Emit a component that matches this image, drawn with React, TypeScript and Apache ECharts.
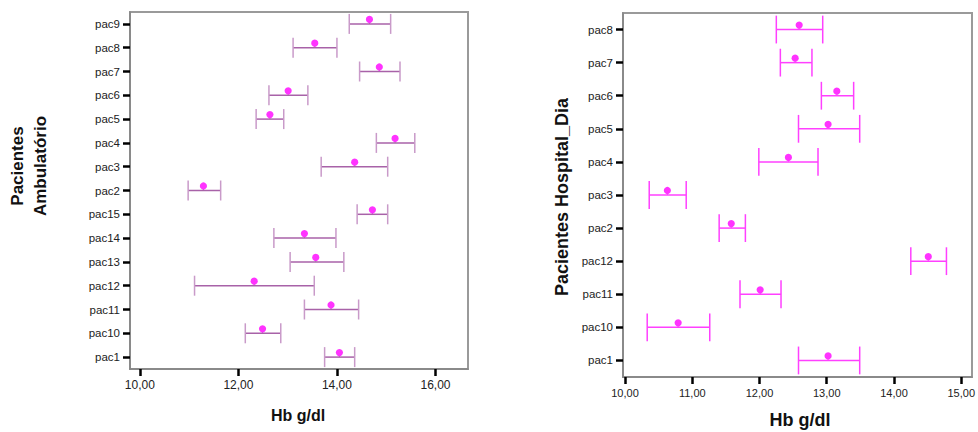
import React, { useEffect, useRef } from "react";
import * as echarts from "echarts";

// Left chart: Pacientes Ambulatório (bottom to top order)
const ambCategories = ["pac1", "pac10", "pac11", "pac12", "pac13", "pac14", "pac15", "pac2", "pac3", "pac4", "pac5", "pac6", "pac7", "pac8", "pac9"];
const ambLow = [13.75, 12.14, 13.34, 11.11, 13.05, 12.72, 14.41, 10.98, 13.68, 14.8, 12.36, 12.62, 14.46, 13.11, 14.25];
const ambHigh = [14.36, 12.86, 14.44, 13.54, 14.14, 13.98, 15.03, 11.64, 15.03, 15.58, 12.92, 13.41, 15.28, 14.0, 15.09];
const ambMean = [14.05, 12.49, 13.88, 12.32, 13.57, 13.34, 14.72, 11.29, 14.36, 15.18, 12.64, 13.01, 14.86, 13.55, 14.66];
const ambTicks = [10, 12, 14, 16];

// Right chart: Pacientes Hospital_Dia (bottom to top order)
const hdCategories = ["pac1", "pac10", "pac11", "pac12", "pac2", "pac3", "pac4", "pac5", "pac6", "pac7", "pac8"];
const hdLow = [12.58, 10.33, 11.71, 14.25, 11.4, 10.36, 11.99, 12.58, 12.92, 12.31, 12.25];
const hdHigh = [13.49, 11.26, 12.32, 14.78, 11.79, 10.91, 12.87, 13.49, 13.4, 12.78, 12.94];
const hdMean = [13.02, 10.79, 12.01, 14.51, 11.58, 10.63, 12.43, 13.02, 13.15, 12.53, 12.59];
const hdTicks = [10, 11, 12, 13, 14, 15];

const fmt = (v: number) => v.toFixed(2).replace(".", ",");

function makeRender(lineColor: string, capColor: string) {
  return (params: any, api: any) => {
    const cat = api.value(0);
    const pLo = api.coord([api.value(1), cat]);
    const pHi = api.coord([api.value(2), cat]);
    const pM = api.coord([api.value(3), cat]);
    const band = api.size([0, 1])[1];
    const h = band * 0.42;
    const y = pLo[1];
    const dotY = y - 4.5;
    return {
      type: "group",
      children: [
        { type: "line", shape: { x1: pLo[0], y1: y, x2: pHi[0], y2: y }, style: { stroke: lineColor, lineWidth: 1.5 } },
        { type: "line", shape: { x1: pLo[0], y1: y - h, x2: pLo[0], y2: y + h }, style: { stroke: capColor, lineWidth: 1.5 } },
        { type: "line", shape: { x1: pHi[0], y1: y - h, x2: pHi[0], y2: y + h }, style: { stroke: capColor, lineWidth: 1.5 } },
        { type: "line", shape: { x1: pM[0], y1: dotY, x2: pM[0], y2: y }, style: { stroke: lineColor, lineWidth: 1 } },
        { type: "circle", shape: { cx: pM[0], cy: dotY, r: 3.6 }, style: { fill: "#ff33ff" } },
      ],
    };
  };
}

const FONT = "'Liberation Sans', Arial, sans-serif";

export default function App() {
  const ref = useRef<HTMLDivElement>(null);
  useEffect(() => {
    if (!ref.current) return;
    const chart = echarts.init(ref.current, null, { renderer: "svg" });
    const catAxisCommon = (data: string[], gridIndex: number, fs: number) => ({
      type: "category",
      gridIndex,
      data,
      boundaryGap: true,
      axisLine: { show: true, lineStyle: { color: "#858585", width: 1.5 } },
      axisTick: { show: true, alignWithLabel: true, length: 7, lineStyle: { color: "#000", width: 2.5 } },
      axisLabel: { color: "#222", fontSize: fs, fontFamily: FONT, margin: 10 },
      splitLine: { show: false },
    });
    const valAxisCommon = (min: number, max: number, ticks: number[], gridIndex: number, fs: number) => ({
      type: "value",
      gridIndex,
      min,
      max,
      axisLine: { show: true, lineStyle: { color: "#858585", width: 1.5 } },
      axisTick: { show: true, length: 7, customValues: ticks, lineStyle: { color: "#000", width: 2.5 } },
      axisLabel: { color: "#222", fontSize: fs, fontFamily: FONT, margin: 10, customValues: ticks, formatter: (v: number) => fmt(v) },
      splitLine: { show: false },
    });
    chart.setOption({
      animation: false,
      backgroundColor: "#fff",
      grid: [
        { left: 130, top: 12, width: 338, height: 357, show: true, borderColor: "#9a9a9a", borderWidth: 2, containLabel: false },
        { left: 623, top: 13, width: 351, height: 364, show: true, borderColor: "#9a9a9a", borderWidth: 2, containLabel: false },
      ],
      xAxis: [valAxisCommon(9.8, 16.66, ambTicks, 0, 12), valAxisCommon(9.97, 15.16, hdTicks, 1, 11)],
      yAxis: [catAxisCommon(ambCategories, 0, 11.5), catAxisCommon(hdCategories, 1, 11.5)],
      series: [
        {
          type: "custom",
          xAxisIndex: 0,
          yAxisIndex: 0,
          renderItem: makeRender("#a862a8", "#c99ac9"),
          encode: { x: [1, 2, 3], y: 0 },
          data: ambCategories.map((_, i) => [i, ambLow[i], ambHigh[i], ambMean[i]]),
          clip: false,
        },
        {
          type: "custom",
          xAxisIndex: 1,
          yAxisIndex: 1,
          renderItem: makeRender("#ff40ff", "#ff40ff"),
          encode: { x: [1, 2, 3], y: 0 },
          data: hdCategories.map((_, i) => [i, hdLow[i], hdHigh[i], hdMean[i]]),
          clip: false,
        },
      ],
      graphic: [
        { type: "text", x: 17, y: 166, rotation: Math.PI / 2, style: { text: "Pacientes", font: `bold 17px ${FONT}`, fill: "#111", textAlign: "center", textVerticalAlign: "middle" } },
        { type: "text", x: 40, y: 166, rotation: Math.PI / 2, style: { text: "Ambulatório", font: `bold 17px ${FONT}`, fill: "#111", textAlign: "center", textVerticalAlign: "middle" } },
        { type: "text", x: 562, y: 197, rotation: Math.PI / 2, style: { text: "Pacientes Hospital_Dia", font: `bold 18px ${FONT}`, fill: "#111", textAlign: "center", textVerticalAlign: "middle" } },
        { type: "text", x: 298, y: 415, style: { text: "Hb g/dl", font: `bold 16px ${FONT}`, fill: "#111", textAlign: "center", textVerticalAlign: "middle" } },
        { type: "text", x: 800, y: 420, style: { text: "Hb g/dl", font: `bold 18px ${FONT}`, fill: "#111", textAlign: "center", textVerticalAlign: "middle" } },
      ],
    });
    return () => chart.dispose();
  }, []);
  return <div ref={ref} style={{ position: "absolute", left: 0, top: 0, width: 978, height: 432 }} />;
}
